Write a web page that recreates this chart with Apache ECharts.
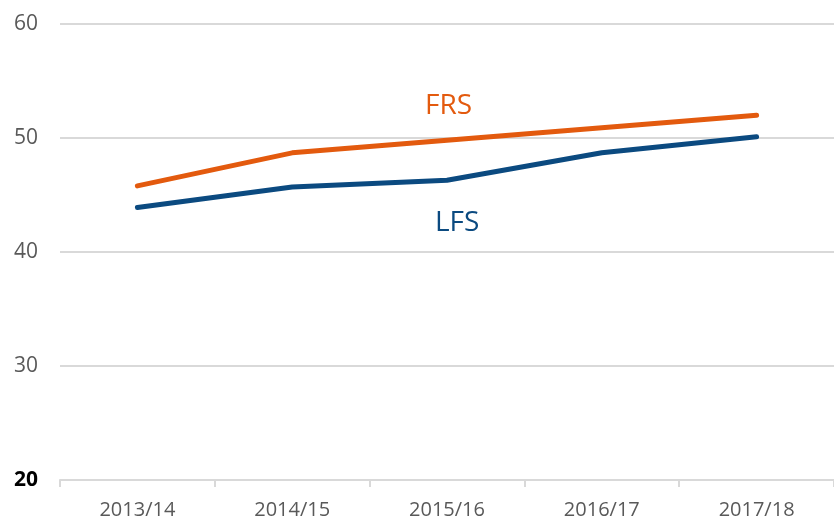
<!DOCTYPE html>
<html>
<head>
<meta charset="utf-8">
<script src="https://cdn.jsdelivr.net/npm/echarts@6/dist/echarts.min.js"></script>
<style>
    html, body { margin: 0; padding: 0; background: #fff; }
    #chart { width: 834px; height: 521px; }
</style>
</head>
<body>
<div id="chart"></div>
<script>
var years = ['2013/14', '2014/15', '2015/16', '2016/17', '2017/18'];
var frsValues = [45.8, 48.7, 49.8, 50.9, 52.0];
var lfsValues = [43.9, 45.7, 46.3, 48.7, 50.1];
var yTicks = [20, 30, 40, 50, 60];

var lineChart = function () {
    var box = echarts.init(document.getElementById('chart'));
    var font = '"Open Sans", sans-serif';
    var option = {
        animation: false,
        grid: {
            left: 60,
            right: -4,
            top: 24,
            bottom: 41
        },
        xAxis: {
            type: 'category',
            data: years,
            boundaryGap: true,
            axisLine: {lineStyle: {color: '#d9d9d9', width: 2}},
            axisTick: {show: true, length: 7, lineStyle: {color: '#d9d9d9', width: 2}},
            axisLabel: {color: '#595959', fontSize: 20, fontFamily: font, margin: 20}
        },
        yAxis: {
            type: 'value',
            min: yTicks[0],
            max: yTicks[yTicks.length - 1],
            interval: 10,
            axisLine: {show: false},
            axisTick: {show: false},
            splitLine: {lineStyle: {color: '#d9d9d9', width: 2}},
            axisLabel: {
                margin: 22,
                fontFamily: font,
                fontSize: 21,
                color: '#595959',
                formatter: function (v) {
                    return v === yTicks[0] ? '{b|' + v + '}' : String(v);
                },
                rich: {
                    b: {fontWeight: 'bold', color: '#000', fontSize: 21, fontFamily: font}
                }
            }
        },
        series: [
            {
                name: 'FRS',
                type: 'line',
                data: frsValues,
                symbol: 'none',
                lineStyle: {color: '#e35a0e', width: 5, cap: 'round', join: 'round'}
            },
            {
                name: 'LFS',
                type: 'line',
                data: lfsValues,
                symbol: 'none',
                lineStyle: {color: '#0b4a80', width: 5, cap: 'round', join: 'round'}
            }
        ],
        graphic: [
            {
                type: 'text',
                left: 425,
                top: 92,
                style: {text: 'FRS', fill: '#e35a0e', fontSize: 28, fontFamily: font}
            },
            {
                type: 'text',
                left: 435,
                top: 209,
                style: {text: 'LFS', fill: '#0b4a80', fontSize: 28, fontFamily: font}
            }
        ]
    };
    box.setOption(option);
};

lineChart();
</script>
</body>
</html>
